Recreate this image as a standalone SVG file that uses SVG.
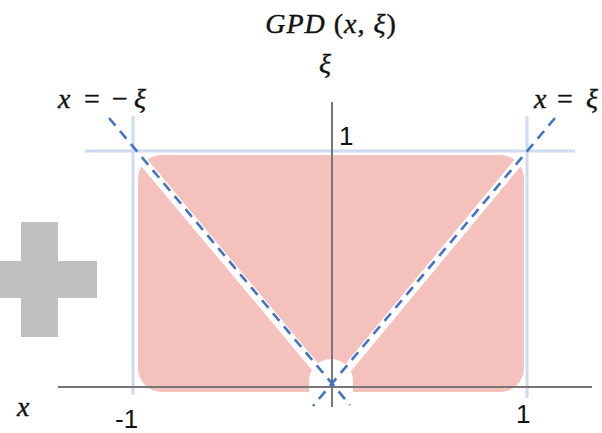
<svg xmlns="http://www.w3.org/2000/svg" width="602" height="433" viewBox="0 0 602 433">
<style>
.m{font-family:"Liberation Serif","DejaVu Serif",serif;font-style:italic;font-size:28px;fill:#111;stroke:#111;stroke-width:0.4}
.u{font-style:normal}
.n{font-family:"Liberation Sans","DejaVu Sans",sans-serif;font-size:26px;fill:#111}
.guide{stroke:#cfdbf0;stroke-width:3;fill:none}
.axis{stroke:#767676;stroke-width:2;fill:none}
.halo{stroke:#fff;stroke-width:9;fill:none}
.dash{stroke:#4472c4;stroke-width:2.6;stroke-dasharray:10 7;fill:none}
</style>
<rect width="602" height="433" fill="#fff"/>
<g id="plus" fill="#c0c0c0">
<rect x="21" y="222" width="37" height="115"/>
<rect x="0" y="261" width="97" height="37"/>
</g>
<g id="region">
<rect x="138" y="155" width="386" height="237" rx="24" fill="#f4c1bd"/>
<path d="M309,392 V381 A22,22 0 0 1 353,381 V392 Z" fill="#fff"/>
</g>
<g id="guides">
<line class="guide" x1="133" y1="116" x2="133" y2="395"/>
<line class="guide" x1="527" y1="116" x2="527" y2="398"/>
<line class="guide" x1="85" y1="151" x2="575" y2="151"/>
</g>
<g id="axes">
<line class="axis" x1="58" y1="387" x2="592" y2="387"/>
<line class="axis" x1="332" y1="102" x2="332" y2="407"/>
</g>
<g id="connectors">
<line class="halo" x1="142" y1="160" x2="322" y2="375"/>
<line class="halo" x1="520" y1="160" x2="342" y2="375"/>
<line class="dash" x1="109" y1="118" x2="350" y2="405"/>
<line class="dash" x1="555" y1="118" x2="313" y2="406"/>
</g>
<g id="labels">
<text class="m" x="331" y="33" text-anchor="middle" letter-spacing="1">GPD <tspan class="u">(</tspan>x<tspan class="u">,</tspan> ξ<tspan class="u">)</tspan></text>
<text class="m" x="319" y="73">ξ</text>
<text class="m" y="108"><tspan x="58">x</tspan><tspan x="84" class="u">=</tspan><tspan x="112" class="u">−</tspan><tspan x="134">ξ</tspan></text>
<text class="m" y="108"><tspan x="534">x</tspan><tspan x="557" class="u">=</tspan><tspan x="586">ξ</tspan></text>
<text class="m" x="17" y="416">x</text>
<text class="n" x="339" y="145">1</text>
<text class="n" x="115" y="428">-1</text>
<text class="n" x="516" y="423">1</text>
</g>
</svg>
